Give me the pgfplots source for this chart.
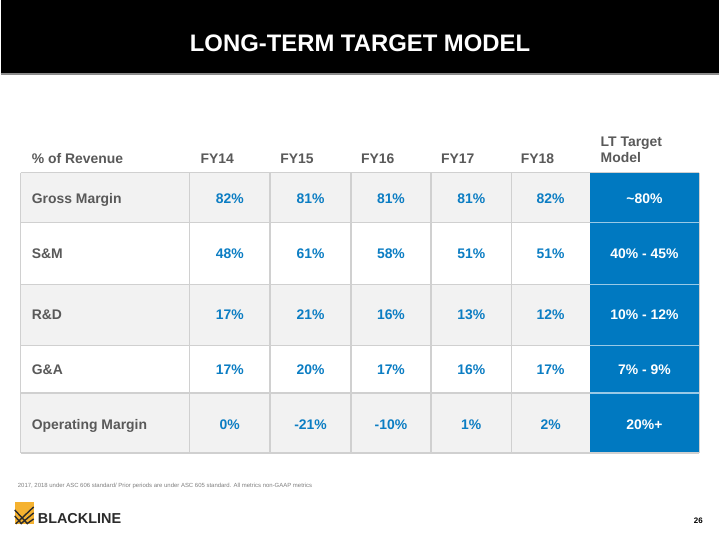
\documentclass[border=0pt]{standalone}
\usepackage{pgfplots}
\pgfplotsset{compat=1.18}
\usepackage{pgfplotstable}
\usepackage{fontspec}
\setmainfont{Liberation Sans}
\definecolor{hdrgray}{HTML}{595959}
\definecolor{valblue}{HTML}{0B7DC3}
\definecolor{fillblue}{HTML}{0079C1}
\definecolor{rowgray}{HTML}{F2F2F2}
\definecolor{linegray}{HTML}{D0D0D0}
\definecolor{logoyellow}{HTML}{F5B230}
\definecolor{logodark}{HTML}{2B2B2B}

% FY values (blue text)
\pgfplotstableread[col sep=comma]{
x,y,lab
229.5,204,82\%
310.5,204,81\%
391,204,81\%
471.5,204,81\%
551,204,82\%
229.5,259,48\%
310.5,259,61\%
391,259,58\%
471.5,259,51\%
551,259,51\%
229.5,320,17\%
310.5,320,21\%
391,320,16\%
471.5,320,13\%
551,320,12\%
229.5,375,17\%
310.5,375,20\%
391,375,17\%
471.5,375,16\%
551,375,17\%
229.5,430,0\%
310.5,430,-21\%
391,430,-10\%
471.5,430,1\%
551,430,2\%
}\valtbl

% LT target model (white text on blue)
\pgfplotstableread[col sep=comma]{
x,y,lab
645,204,\textasciitilde{}80\%
645,259,40\% - 45\%
645,320,10\% - 12\%
645,375,7\% - 9\%
645,430,20\%+
}\tgttbl

% row labels
\pgfplotstableread[col sep=comma]{
x,y,lab
31,204,Gross Margin
31,259,S\&M
31,320,R\&D
31,375,G\&A
31,430,Operating Margin
}\rowtbl

% header labels
\pgfplotstableread[col sep=comma]{
x,y,lab
31,164,\% of Revenue
200,164,FY14
280,164,FY15
361,164,FY16
441,164,FY17
521,164,FY18
601,147,LT Target
601,163,Model
}\hdrtbl

\begin{document}
\begin{tikzpicture}
\begin{axis}[
  scale only axis, width=720bp, height=540bp,
  xmin=0, xmax=720, ymin=0, ymax=540, y dir=reverse,
  hide axis, clip=false,
]
% page background
\addplot[fill=white, draw=none] coordinates {(0,0) (720,0) (720,540) (0,540)} --cycle;
% title band
\addplot[fill=black, draw=none] coordinates {(0,0) (720,0) (720,73.5) (0,73.5)} --cycle;
\addplot[draw=gray!90, line width=1.5bp] coordinates {(0,74.3) (720,74.3)};
% row backgrounds
\addplot[fill=rowgray, draw=none] coordinates {(20,173) (590,173) (590,223) (20,223)} --cycle;
\addplot[fill=rowgray, draw=none] coordinates {(20,285) (590,285) (590,346) (20,346)} --cycle;
\addplot[fill=rowgray, draw=none] coordinates {(20,394) (590,394) (590,454) (20,454)} --cycle;
% target column
\addplot[fill=fillblue, draw=none] coordinates {(590,173) (700,173) (700,454) (590,454)} --cycle;
% grid lines
\addplot[draw=linegray, line width=1.5bp] coordinates {(20,173) (700,173)};
\addplot[draw=linegray, line width=1.5bp] coordinates {(20,223) (590,223)};
\addplot[draw=linegray, line width=1.5bp] coordinates {(20,285) (590,285)};
\addplot[draw=linegray, line width=1.5bp] coordinates {(20,346) (590,346)};
\addplot[draw=linegray, line width=1.5bp] coordinates {(20,394) (590,394)};
\addplot[draw=white!60!fillblue, line width=1.5bp] coordinates {(590,223) (700,223)};
\addplot[draw=white!60!fillblue, line width=1.5bp] coordinates {(590,285) (700,285)};
\addplot[draw=white!60!fillblue, line width=1.5bp] coordinates {(590,346) (700,346)};
\addplot[draw=white!60!fillblue, line width=1.5bp] coordinates {(590,394) (700,394)};
\addplot[draw=linegray, line width=1.5bp] coordinates {(20,454) (700,454)};
\addplot[draw=linegray, line width=1.5bp] coordinates {(20,173) (20,454)};
\addplot[draw=linegray, line width=1.5bp] coordinates {(189,173) (189,454)};
\addplot[draw=linegray, line width=1.5bp] coordinates {(270,173) (270,454)};
\addplot[draw=linegray, line width=1.5bp] coordinates {(351,173) (351,454)};
\addplot[draw=linegray, line width=1.5bp] coordinates {(431,173) (431,454)};
\addplot[draw=linegray, line width=1.5bp] coordinates {(512,173) (512,454)};
\addplot[draw=linegray, line width=1.5bp] coordinates {(700,173) (700,454)};

% title
\addplot[draw=none, mark=none, nodes near coords, point meta=explicit symbolic,
  every node near coord/.style={anchor=base, text=white, inner sep=0pt,
    font=\fontsize{24}{28}\selectfont\bfseries}]
  coordinates {(360,51.5) [LONG-TERM TARGET MODEL]};

% headers
\addplot[draw=none, mark=none, nodes near coords, point meta=explicit symbolic,
  every node near coord/.style={anchor=base west, text=hdrgray, inner sep=0pt,
    font=\fontsize{14}{16}\selectfont\bfseries}]
  table[x=x, y=y, meta=lab] {\hdrtbl};
% row labels
\addplot[draw=none, mark=none, nodes near coords, point meta=explicit symbolic,
  every node near coord/.style={anchor=base west, text=hdrgray, inner sep=0pt,
    font=\fontsize{14}{16}\selectfont\bfseries}]
  table[x=x, y=y, meta=lab] {\rowtbl};
% values
\addplot[draw=none, mark=none, nodes near coords, point meta=explicit symbolic,
  every node near coord/.style={anchor=base, text=valblue, inner sep=0pt,
    font=\fontsize{14}{16}\selectfont\bfseries}]
  table[x=x, y=y, meta=lab] {\valtbl};
% target values
\addplot[draw=none, mark=none, nodes near coords, point meta=explicit symbolic,
  every node near coord/.style={anchor=base, text=white, inner sep=0pt,
    font=\fontsize{14}{16}\selectfont\bfseries}]
  table[x=x, y=y, meta=lab] {\tgttbl};

% footnote
\addplot[draw=none, mark=none, nodes near coords, point meta=explicit symbolic,
  every node near coord/.style={anchor=base west, text=black!50, inner sep=0pt,
    font=\fontsize{6}{7}\selectfont}]
  coordinates {(17,488.5) [2017, 2018 under ASC 606 standard/ Prior periods are under ASC 605 standard. All metrics non-GAAP metrics]};

% logo
\addplot[fill=logoyellow, draw=none] coordinates {(14,503) (33,503) (33,525) (14,525)} --cycle;
\addplot[draw=logodark, line width=1.4bp] coordinates {(15,525) (33,508)};
\addplot[draw=logodark, line width=1.4bp] coordinates {(20,525) (33,514)};
\addplot[draw=logodark, line width=1.4bp] coordinates {(26,525) (33,520)};
\addplot[draw=logodark, line width=1.4bp] coordinates {(14,511) (27,525)};
\addplot[draw=logodark, line width=1.4bp] coordinates {(14,517) (21,525)};
\addplot[draw=none, mark=none, nodes near coords, point meta=explicit symbolic,
  every node near coord/.style={anchor=base west, text=logodark, inner sep=0pt,
    font=\fontsize{14.5}{16}\selectfont\bfseries}]
  coordinates {(37,524.5) [BLACKLINE]};

% page number
\addplot[draw=none, mark=none, nodes near coords, point meta=explicit symbolic,
  every node near coord/.style={anchor=base, text=black, inner sep=0pt,
    font=\fontsize{8}{9}\selectfont\bfseries}]
  coordinates {(699,525) [26]};
\end{axis}
\end{tikzpicture}
\end{document}
